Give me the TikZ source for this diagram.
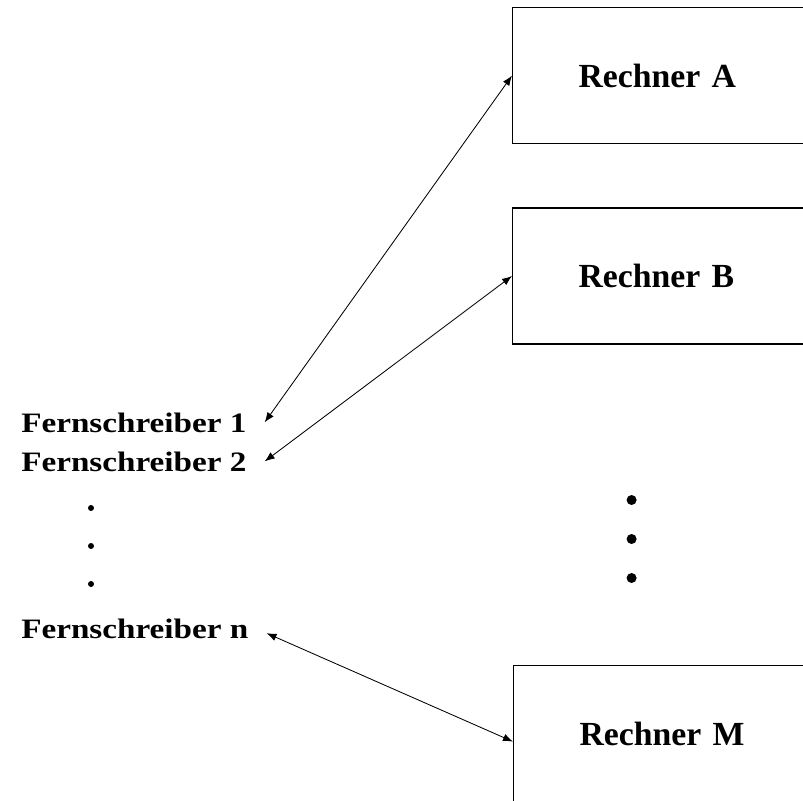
\documentclass[tikz,border=0pt]{standalone}
\usepackage{fontspec}
\setmainfont{Liberation Serif}
\newfontfamily\fernfont[FakeStretch=1.18]{Liberation Serif}
\usepackage{xcolor}
\usepackage{tikz}
\usetikzlibrary{arrows.meta, positioning}

\begin{document}
\begin{tikzpicture}[
    >={Latex[length=2.5mm,width=1.9mm]},
    rechner/.style={rectangle, draw, line width=0.8pt, anchor=west, inner xsep=1.65cm,
        text width=5.5cm, align=left, minimum height=3.4cm,
        font=\fontsize{24}{28}\selectfont\bfseries},
    fern/.style={anchor=base west, inner xsep=0.45cm, inner ysep=0pt,
        font=\fontsize{20}{24}\selectfont\fernfont\bfseries},
    link/.style={<->, line width=0.6pt}
]
    \useasboundingbox (0,0) rectangle (20.075,-20);
    \clip (0,0) rectangle (20.075,-20);

    % Rechner on the right
    \node[rechner] (ra) at (12.8,-1.89) {Rechner A};
    \node[rechner] (rb) at (12.8,-6.9) {Rechner B};
    \node[rechner] (rm) at (12.825,-18.34) {Rechner M};

    % Fernschreiber on the left
    \node[fern] (f1) at (0.075,-10.8) {Fernschreiber 1};
    \node[fern] (f2) at (0.075,-11.775) {Fernschreiber 2};
    \node[fern] (fn) at (0.075,-15.95) {Fernschreiber n};

    % Dots
    \foreach \y in {-12.7,-13.65,-14.6}
        \fill (2.275,\y) circle (0.075);
    \foreach \y in {-12.5,-13.475,-14.45}
        \fill (15.79,\y) circle (0.125);

    % Draw connections
    \draw[link] (f1.east) -- (ra.west);
    \draw[link] (f2.east) -- (rb.west);
    \draw[link] ([yshift=-0.12cm]fn.east) -- ([yshift=-0.2cm]rm.west);
\end{tikzpicture}
\end{document}
